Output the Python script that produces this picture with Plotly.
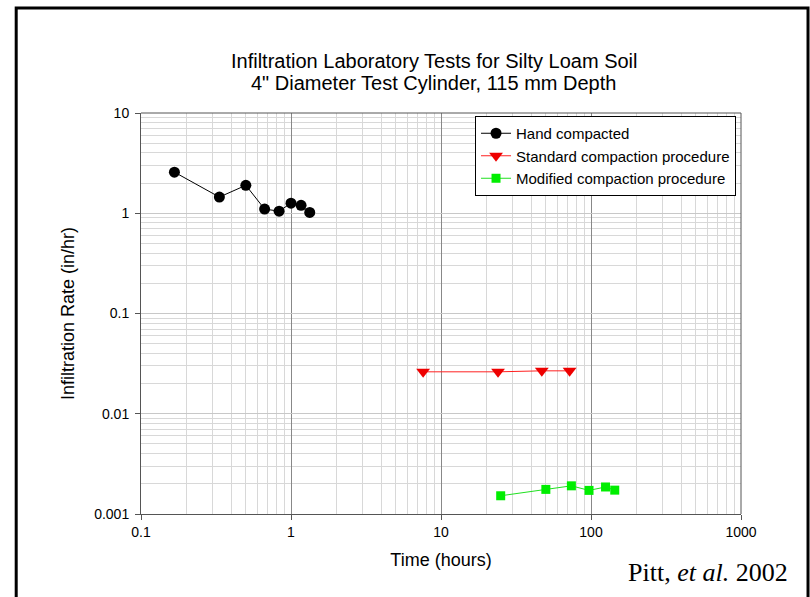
import plotly.graph_objects as go

# Data
hand_t = [0.167, 0.333, 0.5, 0.667, 0.833, 1.0, 1.167, 1.333]
hand_r = [2.57, 1.45, 1.9, 1.1, 1.05, 1.26, 1.2, 1.02]

std_t = [7.6, 24, 47, 72]
std_r = [0.0262, 0.0262, 0.0268, 0.0268]

mod_t = [25, 50, 74, 97, 125, 144]
mod_r = [0.00152, 0.00176, 0.00191, 0.00172, 0.00186, 0.00173]

x_ticks = [0.1, 1, 10, 100, 1000]
x_labels = ["0.1", "1", "10", "100", "1000"]
y_ticks = [0.001, 0.01, 0.1, 1, 10]
y_labels = ["0.001", "0.01", "0.1", "1", "10"]

title_1 = "Infiltration Laboratory Tests for Silty Loam Soil"
title_2 = "4\" Diameter Test Cylinder, 115 mm Depth"

FONT = "Liberation Sans, Arial, sans-serif"

fig = go.Figure()
fig.add_trace(go.Scatter(x=hand_t, y=hand_r, mode="lines+markers", name="Hand compacted",
                         line=dict(color="black", width=1),
                         marker=dict(symbol="circle", size=11, color="black")))
fig.add_trace(go.Scatter(x=std_t, y=std_r, mode="lines+markers", name="Standard compaction procedure",
                         line=dict(color="#ff2020", width=1),
                         marker=dict(symbol="triangle-down", size=12, color="#ee0000")))
fig.add_trace(go.Scatter(x=mod_t, y=mod_r, mode="lines+markers", name="Modified compaction procedure",
                         line=dict(color="#20e020", width=1),
                         marker=dict(symbol="square", size=9, color="#00ee00")))

fig.update_layout(
    width=810, height=597,
    margin=dict(l=141, r=69, t=113, b=83),
    paper_bgcolor="white", plot_bgcolor="white",
    font=dict(family=FONT, color="black", size=14),
    showlegend=True,
    legend=dict(x=0.9917, y=0.9925, xanchor="right", yanchor="top",
                bgcolor="white", bordercolor="black", borderwidth=1,
                font=dict(size=15, family=FONT), tracegroupgap=0,
                itemwidth=30),
    xaxis=dict(type="log", range=[-1, 3], tickvals=x_ticks, ticktext=x_labels,
               ticks="outside", ticklen=5, tickcolor="#555", tickfont=dict(size=14),
               showline=True, linecolor="#555", linewidth=1, mirror=False,
               showgrid=True, gridcolor="#888", gridwidth=1,
               minor=dict(showgrid=True, gridcolor="#d8d8d8", gridwidth=1, ticks="", dtick="D1"),
               zeroline=False,
               title=dict(text="Time (hours)", font=dict(size=18), standoff=14)),
    yaxis=dict(type="log", range=[-3, 1], tickvals=y_ticks, ticktext=y_labels,
               ticks="outside", ticklen=5, tickcolor="#555", tickfont=dict(size=14),
               ticklabelstandoff=3,
               showline=True, linecolor="#555", linewidth=1, mirror=False,
               showgrid=True, gridcolor="#c8c8c8", gridwidth=1,
               minor=dict(showgrid=True, gridcolor="#d8d8d8", gridwidth=1, ticks="", dtick="D1"),
               zeroline=False,
               title=dict(text="Infiltration Rate (in/hr)", font=dict(size=18), standoff=14)),
    annotations=[
        dict(text=title_1, xref="paper", yref="paper", x=0.488, y=1.1297,
             xanchor="center", yanchor="middle", showarrow=False, font=dict(size=20, family=FONT)),
        dict(text=title_2, xref="paper", yref="paper", x=0.488, y=1.0748,
             xanchor="center", yanchor="middle", showarrow=False, font=dict(size=20, family=FONT)),
        dict(text="Pitt, <i>et al.</i> 2002", xref="paper", yref="paper",
             x=1.082, y=-0.147, xanchor="right", yanchor="middle", showarrow=False,
             font=dict(size=26, family="Liberation Serif, Times New Roman, serif")),
    ],
    shapes=[
        dict(type="rect", xref="paper", yref="paper", x0=-0.208, x1=1.1117, y0=-0.3, y1=1.2618,
             line=dict(color="black", width=3), fillcolor="rgba(0,0,0,0)", layer="above"),
        dict(type="line", xref="paper", yref="paper", x0=0, x1=1, y0=1, y1=1,
             line=dict(color="#555", width=1)),
        dict(type="line", xref="paper", yref="paper", x0=1, x1=1, y0=0, y1=1,
             line=dict(color="#555", width=1)),
    ],
)

fig.write_html("out.html")
